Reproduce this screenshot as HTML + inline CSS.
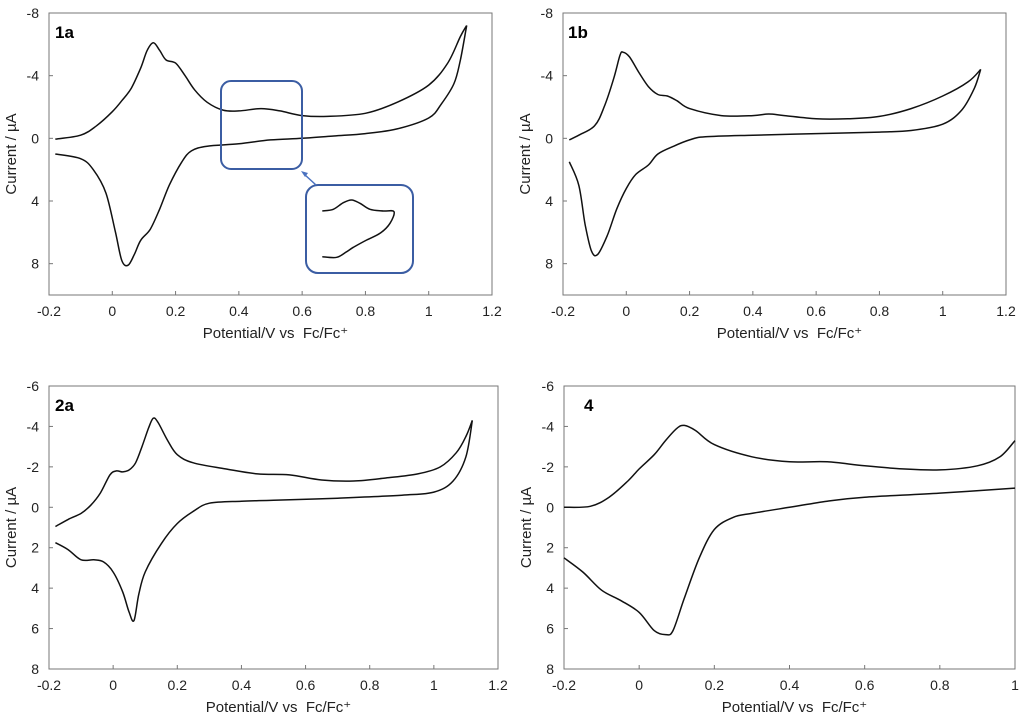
<!DOCTYPE html>
<html><head><meta charset="utf-8"><style>
body{margin:0;background:#fff;}
svg{display:block;font-family:"Liberation Sans",Arial,sans-serif;}
.t{font-size:14px;fill:#222;}
.ti{font-size:15px;fill:#222;}
.lb{font-size:17px;font-weight:bold;fill:#000;}
</style></head><body>
<svg id="s" width="1024" height="719" viewBox="0 0 1024 719" xmlns="http://www.w3.org/2000/svg"></svg>
<script>
const S=document.getElementById('s');let h='';
function path(pts,X,Y){const p=pts.map(q=>[X(q[0]),Y(q[1])]);let d='M'+p[0][0].toFixed(1)+','+p[0][1].toFixed(1);
for(let i=0;i<p.length-1;i++){const p0=p[i-1]||p[i],p1=p[i],p2=p[i+1],p3=p[i+2]||p2;
const c1=[p1[0]+(p2[0]-p0[0])/6,p1[1]+(p2[1]-p0[1])/6],c2=[p2[0]-(p3[0]-p1[0])/6,p2[1]-(p3[1]-p1[1])/6];
d+=' C'+c1.map(v=>v.toFixed(1))+' '+c2.map(v=>v.toFixed(1))+' '+p2.map(v=>v.toFixed(1));}
return d;}
function panel(o){const X=v=>o.x0+(v-o.xmin)/(o.xmax-o.xmin)*(o.x1-o.x0),Y=v=>o.y0+(v-o.ymin)/(o.ymax-o.ymin)*(o.y1-o.y0);
h+=`<rect x="${o.x0}" y="${o.y0}" width="${o.x1-o.x0}" height="${o.y1-o.y0}" fill="none" stroke="#777" stroke-width="1"/>`;
for(const v of o.xt){const x=X(v);h+=`<line x1="${x}" y1="${o.y1}" x2="${x}" y2="${o.y1-4}" stroke="#777"/><text class="t" x="${x}" y="${o.y1+21}" text-anchor="middle">${v<0?'-'+(-v):v}</text>`;}
for(const v of o.yt){const y=Y(v);h+=`<line x1="${o.x0}" y1="${y}" x2="${o.x0+4}" y2="${y}" stroke="#777"/><text class="t" x="${o.x0-10}" y="${y+5}" text-anchor="end">${v}</text>`;}
const cx=(o.x0+o.x1)/2+5;h+=`<text class="ti" x="${cx}" y="${o.y1+43}" text-anchor="middle" style="white-space:pre">Potential/V vs  Fc/Fc⁺</text>`;
const cy=(o.y0+o.y1)/2;h+=`<text class="ti" transform="translate(${o.x0-33},${cy}) rotate(-90)" text-anchor="middle">Current / µA</text>`;
h+=`<text class="lb" x="${o.lx}" y="${o.y0+25}">${o.lab}</text>`;
for(const c of o.curves)h+=`<path d="${path(c,X,Y)}" fill="none" stroke="#111" stroke-width="1.5"/>`;}
panel({x0:49,x1:492,y0:13,y1:295,xmin:-0.2,xmax:1.2,ymin:-8,ymax:10,xt:[-0.2,0,0.2,0.4,0.6,0.8,1,1.2],yt:[-8,-4,0,4,8],lab:'1a',lx:55,
curves:[[[-0.18,0.05],[-0.1,-0.2],[-0.05,-0.8],[0,-1.7],[0.03,-2.4],[0.06,-3.2],[0.09,-4.5],[0.11,-5.6],[0.13,-6.1],[0.15,-5.6],[0.17,-5.0],[0.2,-4.8],[0.23,-4.0],[0.26,-3.1],[0.3,-2.3],[0.35,-1.8],[0.4,-1.75],[0.47,-1.9],[0.53,-1.75],[0.6,-1.45],[0.68,-1.4],[0.8,-1.6],[0.9,-2.3],[1.0,-3.4],[1.06,-4.8],[1.1,-6.5],[1.12,-7.2]],
[[1.12,-7.2],[1.1,-5.0],[1.08,-3.5],[1.04,-2.2],[1.0,-1.3],[0.9,-0.6],[0.8,-0.3],[0.7,-0.15],[0.6,0],[0.5,0.1],[0.4,0.35],[0.3,0.5],[0.25,0.8],[0.22,1.5],[0.18,3.0],[0.15,4.5],[0.12,5.8],[0.09,6.5],[0.07,7.4],[0.05,8.1],[0.03,7.8],[0.01,6.0],[-0.02,3.5],[-0.06,2.0],[-0.1,1.3],[-0.18,1.0]]]});
panel({x0:563,x1:1006,y0:13,y1:295,xmin:-0.2,xmax:1.2,ymin:-8,ymax:10,xt:[-0.2,0,0.2,0.4,0.6,0.8,1,1.2],yt:[-8,-4,0,4,8],lab:'1b',lx:568,
curves:[[[-0.18,0.1],[-0.15,-0.2],[-0.1,-0.8],[-0.07,-2],[-0.04,-3.8],[-0.02,-5.3],[-0.01,-5.5],[0.01,-5.2],[0.04,-4.2],[0.07,-3.3],[0.1,-2.8],[0.13,-2.7],[0.16,-2.4],[0.2,-1.9],[0.3,-1.45],[0.4,-1.45],[0.45,-1.55],[0.5,-1.45],[0.6,-1.25],[0.7,-1.25],[0.8,-1.4],[0.9,-1.9],[1.0,-2.7],[1.08,-3.6],[1.12,-4.4]],
[[1.12,-4.4],[1.1,-3.2],[1.06,-1.8],[1.0,-0.9],[0.9,-0.5],[0.8,-0.4],[0.6,-0.3],[0.4,-0.2],[0.25,-0.1],[0.2,0.1],[0.15,0.5],[0.1,1.0],[0.07,1.7],[0.03,2.3],[0.0,3.2],[-0.03,4.5],[-0.06,6.2],[-0.09,7.4],[-0.11,7.2],[-0.13,5.5],[-0.15,3.0],[-0.18,1.5]]]});
panel({x0:49,x1:498,y0:386,y1:669,xmin:-0.2,xmax:1.2,ymin:-6,ymax:8,xt:[-0.2,0,0.2,0.4,0.6,0.8,1,1.2],yt:[-6,-4,-2,0,2,4,6,8],lab:'2a',lx:55,
curves:[[[-0.18,0.95],[-0.14,0.6],[-0.1,0.3],[-0.07,-0.1],[-0.04,-0.7],[-0.01,-1.6],[0.01,-1.8],[0.03,-1.75],[0.05,-1.85],[0.07,-2.2],[0.09,-3],[0.11,-3.9],[0.125,-4.4],[0.14,-4.2],[0.17,-3.3],[0.2,-2.6],[0.25,-2.2],[0.35,-1.9],[0.45,-1.65],[0.55,-1.6],[0.65,-1.35],[0.75,-1.3],[0.85,-1.45],[0.95,-1.65],[1.02,-2.0],[1.07,-2.7],[1.1,-3.5],[1.12,-4.3]],
[[1.12,-4.3],[1.1,-2.5],[1.06,-1.3],[1.0,-0.75],[0.9,-0.6],[0.7,-0.45],[0.5,-0.35],[0.4,-0.3],[0.3,-0.2],[0.25,0.2],[0.2,0.8],[0.15,1.8],[0.1,3.2],[0.08,4.3],[0.065,5.6],[0.05,5.2],[0.03,4.2],[0.0,3.2],[-0.03,2.7],[-0.06,2.6],[-0.1,2.6],[-0.14,2.1],[-0.18,1.75]]]});
panel({x0:564,x1:1015,y0:386,y1:669,xmin:-0.2,xmax:1.0,ymin:-6,ymax:8,xt:[-0.2,0,0.2,0.4,0.6,0.8,1],yt:[-6,-4,-2,0,2,4,6,8],lab:'4',lx:584,
curves:[[[-0.2,0],[-0.13,-0.05],[-0.08,-0.5],[-0.03,-1.3],[0.0,-1.9],[0.04,-2.6],[0.07,-3.3],[0.1,-3.9],[0.12,-4.05],[0.15,-3.8],[0.2,-3.1],[0.3,-2.5],[0.4,-2.25],[0.5,-2.25],[0.6,-2.05],[0.7,-1.9],[0.8,-1.85],[0.9,-2.05],[0.96,-2.5],[1.0,-3.3]],
[[1.0,-0.95],[0.8,-0.7],[0.6,-0.5],[0.5,-0.3],[0.4,0],[0.3,0.3],[0.25,0.5],[0.2,1.1],[0.16,2.5],[0.12,4.5],[0.09,6.1],[0.07,6.3],[0.04,6.1],[0.0,5.2],[-0.05,4.6],[-0.1,4.1],[-0.15,3.2],[-0.2,2.5]]]});
h+=`<rect x="221" y="81" width="81" height="88" rx="10" fill="none" stroke="#3b5da3" stroke-width="2"/>`;
h+=`<rect x="306" y="185" width="107" height="88" rx="12" fill="none" stroke="#3b5da3" stroke-width="2"/>`;
h+=`<line x1="316" y1="185" x2="304" y2="174" stroke="#4a72c0" stroke-width="1.5"/><polygon points="301,171 308,173 305,177" fill="#4a72c0"/>`;
const ip=[[967,633],[1000,628],[1030,608],[1055,600],[1080,610],[1110,628],[1150,633],[1182,635],[1170,670],[1140,700],[1100,720],[1060,742],[1040,755],[1010,772],[967,770]];
h+=`<path d="${path(ip,v=>v/3,v=>v/3)}" fill="none" stroke="#111" stroke-width="1.5"/>`;
S.innerHTML=h;
</script>
</body></html>
